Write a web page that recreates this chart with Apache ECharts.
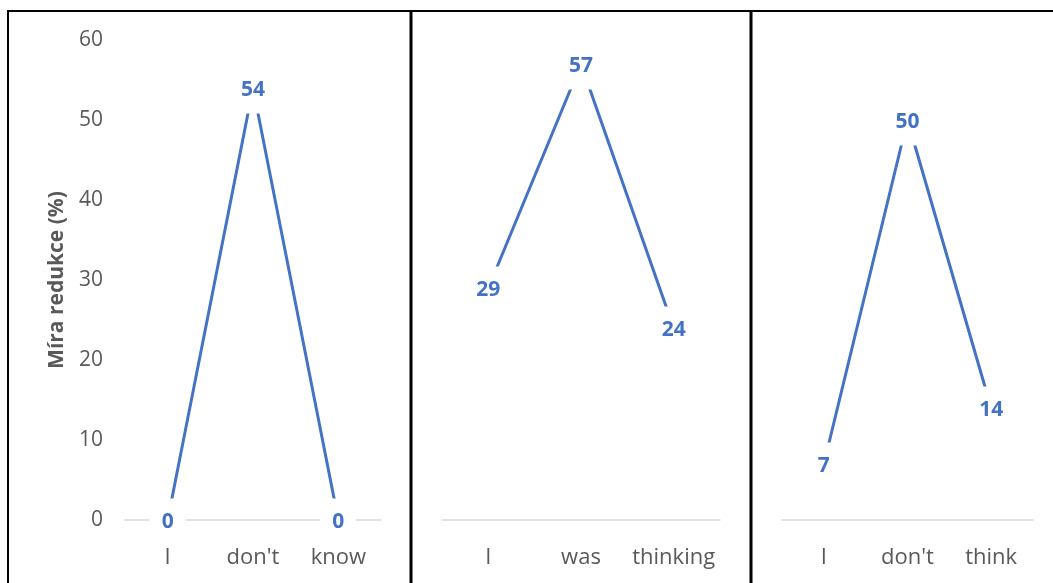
<!DOCTYPE html>
<html>
<head>
<meta charset="utf-8">
<style>
  html, body { margin: 0; padding: 0; background: #fff; }
  #chart { width: 1053px; height: 583px; }
</style>
<script src="https://cdn.jsdelivr.net/npm/echarts@6/dist/echarts.min.js"></script>
</head>
<body>
<div id="chart"></div>
<script>
// Word sequences (x categories) for the three panels
const wordsA = ["I", "don't", "know"];
const wordsB = ["I", "was", "thinking"];
const wordsC = ["I", "don't", "think"];

// Reduction rate per word (%)
const reductionA = [0, 54, 0];
const reductionB = [29, 57, 24];
const reductionC = [7, 50, 14];

// Y axis ticks
const yMin = 0, yMax = 60, yStep = 10;
const yTitle = "Míra redukce (%)";

const BLUE = "#4472C4";
const GREY_TEXT = "#595959";
const FONT = "'Open Sans', 'Noto Sans', sans-serif";

const panels = [
  { words: wordsA, values: reductionA, left: 125, width: 256 },
  { words: wordsB, values: reductionB, left: 442, width: 278 },
  { words: wordsC, values: reductionC, left: 782, width: 251 }
];

const grids = panels.map(p => ({ left: p.left, width: p.width, top: 40, height: 480 }));

const xAxes = panels.map((p, i) => ({
  type: "category",
  gridIndex: i,
  data: p.words,
  boundaryGap: true,
  axisLine: { show: true, lineStyle: { color: "#d9d9d9", width: 1.5 } },
  axisTick: { show: false },
  axisLabel: { interval: 0, color: GREY_TEXT, fontSize: 22, fontFamily: FONT, margin: 27 }
}));

const yAxes = panels.map((p, i) => ({
  type: "value",
  gridIndex: i,
  min: yMin, max: yMax, interval: yStep,
  splitLine: { show: false },
  axisLine: { show: false },
  axisTick: { show: false },
  axisLabel: { show: i === 0, color: GREY_TEXT, fontSize: 21, fontFamily: FONT, margin: 22 },
  name: i === 0 ? yTitle : "",
  nameLocation: "middle",
  nameGap: 57,
  nameRotate: 90,
  nameTextStyle: { color: GREY_TEXT, fontSize: 21, fontWeight: "bold", fontFamily: FONT }
}));

const series = panels.map((p, i) => ({
  type: "line",
  xAxisIndex: i,
  yAxisIndex: i,
  data: p.values,
  symbol: "circle",
  symbolSize: 1,
  itemStyle: { color: BLUE },
  lineStyle: { color: BLUE, width: 3 },
  label: {
    show: true,
    position: "inside",
    offset: [0, 2],
    color: BLUE,
    fontSize: 21,
    fontWeight: "bold",
    fontFamily: FONT,
    backgroundColor: "#fff",
    padding: [13, 12]
  },
  emphasis: { disabled: true },
  animation: false
}));

// Frame: top and left border, panel separators
const frame = [
  { type: "line", shape: { x1: 7, y1: 11, x2: 1053, y2: 11 }, style: { stroke: "#000", lineWidth: 2 } },
  { type: "line", shape: { x1: 8, y1: 11, x2: 8, y2: 583 }, style: { stroke: "#000", lineWidth: 2 } },
  { type: "line", shape: { x1: 411, y1: 11, x2: 411, y2: 583 }, style: { stroke: "#000", lineWidth: 3 } },
  { type: "line", shape: { x1: 751, y1: 11, x2: 751, y2: 583 }, style: { stroke: "#000", lineWidth: 3 } }
];

const chart = echarts.init(document.getElementById("chart"), null, { renderer: "canvas" });
chart.setOption({
  animation: false,
  backgroundColor: "#fff",
  grid: grids,
  xAxis: xAxes,
  yAxis: yAxes,
  series: series,
  graphic: frame
});
</script>
</body>
</html>
